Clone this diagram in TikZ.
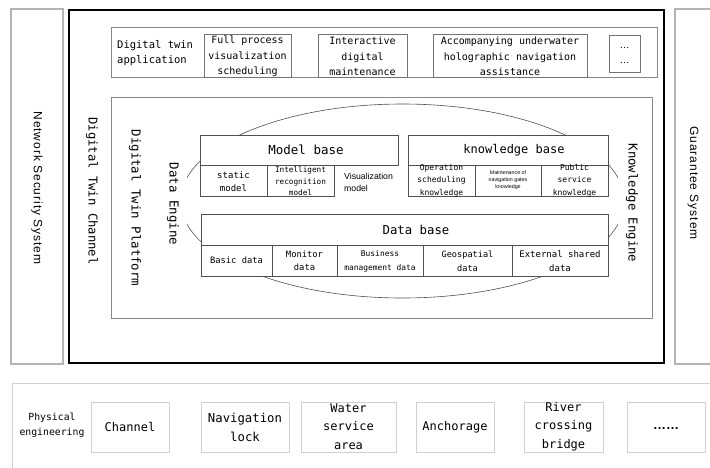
\documentclass[tikz,border=0pt]{standalone}
\usepackage{fontspec}
\setmainfont{DejaVu Sans Mono}
\newfontfamily\arialsp[LetterSpace=8]{Liberation Sans}
\newfontfamily\arialf{Liberation Sans}
\newcommand{\fsz}[2]{\fontsize{#1}{#2}\selectfont}
\definecolor{lgray}{HTML}{B4B4B4}
\definecolor{pgray}{HTML}{D0D0D0}
\definecolor{mgray}{HTML}{888888}
\definecolor{dgray}{HTML}{505050}
\begin{document}
\begin{tikzpicture}[x=1pt,y=-1pt,
  sidebox/.style={draw=lgray, line width=1.2pt},
  chanbox/.style={draw=black, line width=2.2pt},
  midbox/.style={draw=mgray, line width=1pt},
  cellbox/.style={draw=dgray, line width=0.8pt, fill=white},
  appcell/.style={draw=dgray!80, line width=0.8pt},
  phbox/.style={draw=pgray, line width=1pt},
  lbl/.style={inner sep=0pt, align=center},
  vlbl/.style={rotate=-90, inner sep=0pt, align=center},
  eng/.style={rotate=-90, fill=white, inner xsep=2pt, inner ysep=8pt},
]
\useasboundingbox (0,0) rectangle (710,467);
\clip (0,0) rectangle (710,467);
\fill[white] (0,0) rectangle (710,467);

% side systems
\draw[sidebox] (11,9) rectangle (63,364);
\node[vlbl, font=\arialsp\fsz{12}{14}] (nss) at (37,188) {Network Security System};
\draw[sidebox] (675,9) rectangle (720,364);
\node[vlbl, font=\arialsp\fsz{12}{14}] (gs) at (693,183) {Guarantee System};

% digital twin channel
\draw[chanbox] (69,10) rectangle (664,363);
\node[vlbl, font=\fsz{12.2}{14}] (dtc) at (92,191) {Digital Twin Channel};

% application row
\draw[midbox] (111,27) rectangle (657,77);
\node[lbl, anchor=west, align=left, font=\fsz{10.5}{15}] (dta) at (117,53.5) {Digital twin\\application};
\draw[appcell] (204,34) rectangle (291,77);
\node[lbl, font=\fsz{10}{15.5}] (app1) at (247.5,56.5) {Full process\\visualization\\scheduling};
\draw[appcell] (318,34) rectangle (407,77);
\node[lbl, font=\fsz{10}{15.5}] (app2) at (362.5,56.5) {Interactive\\digital\\maintenance};
\draw[appcell] (433,34) rectangle (587,77);
\node[lbl, font=\fsz{10}{15.5}] (app3) at (510,56.5) {Accompanying underwater\\holographic navigation\\assistance};
\draw[appcell] (609,35) rectangle (640,72);
\node[lbl, font=\arialf\fsz{10}{15}] (app4) at (624.5,55) {…\\…};

% platform
\draw[midbox] (111,97) rectangle (652,318);
\node[vlbl, font=\fsz{12.4}{14}] (dtp) at (135,208) {Digital Twin Platform};

% ellipse behind the bases
\draw[dgray, line width=0.6pt] (402.5,201) ellipse [x radius=222pt, y radius=97pt];
\node[eng, font=\fsz{12.4}{14}] (de) at (173,204) {Data Engine};
\node[eng, font=\fsz{12.3}{14}] (ke) at (632,203) {Knowledge Engine};

% model base
\draw[cellbox] (200,135) rectangle (398,165);
\node[lbl, font=\fsz{12.5}{14}] (mb) at (306,150) {Model base};
\draw[cellbox] (200,165) rectangle (267,196);
\node[lbl, font=\fsz{9}{12.5}] (m1) at (233.5,181.5) {static\\model};
\draw[cellbox] (267,165) rectangle (334,196);
\node[lbl, font=\fsz{7.7}{11.5}] (m2) at (300.5,181.5) {Intelligent\\recognition\\model};
\node[lbl, anchor=west, align=left, font=\arialf\fsz{8.7}{12}] (m3) at (344,182) {Visualization\\model};

% knowledge base
\draw[cellbox] (408,135) rectangle (608,165);
\node[lbl, font=\fsz{12}{14}] (kb) at (514,150) {knowledge base};
\draw[cellbox] (408,165) rectangle (475,196);
\node[lbl, font=\fsz{8}{12.5}] (k1) at (441.5,180.5) {Operation\\scheduling\\knowledge};
\draw[cellbox] (475,165) rectangle (541,196);
\node[lbl, font=\arialf\fsz{5.3}{7}] (k2) at (508,180) {Maintenance of\\navigation gates\\knowledge};
\draw[cellbox] (541,165) rectangle (608,196);
\node[lbl, font=\fsz{8}{12.5}] (k3) at (574.5,180.5) {Public\\service\\knowledge};

% data base
\draw[cellbox] (201,214) rectangle (608,245);
\node[lbl, font=\fsz{12.3}{14}] (db) at (416,230) {Data base};
\draw[cellbox] (201,245) rectangle (272,276);
\node[lbl, font=\fsz{8.8}{13}] (d1) at (236.5,260.5) {Basic data};
\draw[cellbox] (272,245) rectangle (337,276);
\node[lbl, font=\fsz{8.8}{13}] (d2) at (304.5,260.5) {Monitor\\data};
\draw[cellbox] (337,245) rectangle (423,276);
\node[lbl, font=\fsz{7.9}{14}] (d3) at (380,261) {Business\\management data};
\draw[cellbox] (423,245) rectangle (512,276);
\node[lbl, font=\fsz{8.6}{14}] (d4) at (467.5,261) {Geospatial\\data};
\draw[cellbox] (512,245) rectangle (608,276);
\node[lbl, font=\fsz{9}{14}] (d5) at (560,261) {External shared\\data};

% physical engineering
\draw[phbox] (12,383) rectangle (720,480);
\node[lbl, font=\fsz{9.8}{15}] (pe) at (52,425.5) {Physical\\engineering};
\draw[phbox] (91,402) rectangle (169,452);
\node[lbl, font=\fsz{12}{18}] (p1) at (130,427) {Channel};
\draw[phbox] (201,402) rectangle (289,452);
\node[lbl, font=\fsz{12.3}{19}] (p2) at (245,427.5) {Navigation\\lock};
\draw[phbox] (301,402) rectangle (396,452);
\node[lbl, font=\fsz{12}{18.5}] (p3) at (348.5,426.5) {Water\\service\\area};
\draw[phbox] (416,402) rectangle (494,452);
\node[lbl, font=\fsz{12}{18}] (p4) at (455,427) {Anchorage};
\draw[phbox] (524,402) rectangle (603,452);
\node[lbl, font=\fsz{12}{18.5}] (p5) at (563.5,426.5) {River\\crossing\\bridge};
\draw[phbox] (627,402) rectangle (705,452);
\node[lbl, font=\arialf\bfseries\fsz{13}{18}] (p6) at (666,429) {……};
\end{tikzpicture}
\end{document}
